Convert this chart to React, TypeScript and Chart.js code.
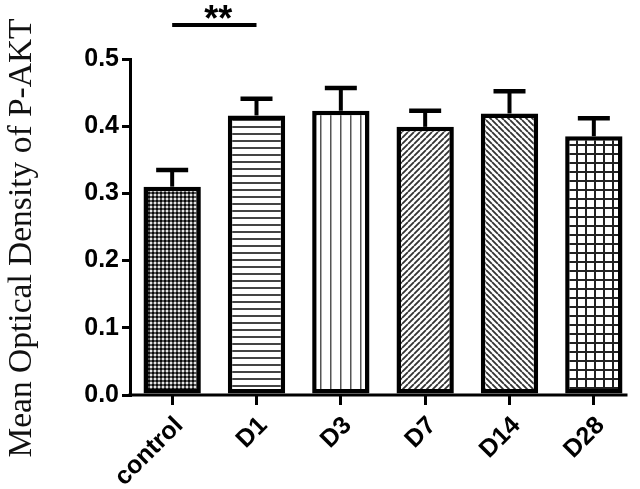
import React, { useEffect, useRef } from 'react';
import { Chart, registerables } from 'chart.js';

Chart.register(...registerables);

const categories = ['control', 'D1', 'D3', 'D7', 'D14', 'D28'];
const means = [0.31, 0.416, 0.423, 0.399, 0.419, 0.385];
const sems = [0.025, 0.025, 0.034, 0.024, 0.033, 0.027];
const patternKinds = ['dots', 'hlines', 'vlines', 'diagUp', 'diagDown', 'grid'];
const yMin = 0;
const yMax = 0.5;
const yStep = 0.1;
const yTitle = 'Mean Optical Density of P-AKT';
const sigLabel = '**';
const sigPair = [0, 1];

function makePattern(kind: string): CanvasPattern | string {
  const c = document.createElement('canvas');
  let s = 6;
  if (kind === 'dots') s = 4;
  if (kind === 'hlines') s = 7;
  if (kind === 'vlines') s = 10;
  if (kind === 'grid') s = 9;
  c.width = s;
  c.height = s;
  const g = c.getContext('2d')!;
  g.fillStyle = '#fff';
  g.fillRect(0, 0, s, s);
  if (kind === 'dots') {
    g.fillStyle = '#555';
    g.fillRect(0, 0, s, s);
    g.fillStyle = '#0a0a0a';
    g.fillRect(0, 0, 2, 2);
    g.fillStyle = '#e6e6e6';
    g.fillRect(2, 2, 2, 2);
  } else if (kind === 'hlines') {
    g.fillStyle = '#444';
    g.fillRect(0, 0, s, 2);
  } else if (kind === 'vlines') {
    g.fillStyle = '#555';
    g.fillRect(0, 0, 1.5, s);
  } else if (kind === 'grid') {
    g.fillStyle = '#222';
    g.fillRect(0, 0, s, 2);
    g.fillRect(0, 0, 2, s);
  } else if (kind === 'diagUp' || kind === 'diagDown') {
    g.strokeStyle = '#333';
    g.lineWidth = 1.8;
    g.beginPath();
    if (kind === 'diagUp') {
      for (let k = -1; k <= 1; k++) {
        g.moveTo(k * s, s);
        g.lineTo(k * s + s, 0);
      }
    } else {
      for (let k = -1; k <= 1; k++) {
        g.moveTo(k * s, 0);
        g.lineTo(k * s + s, s);
      }
    }
    g.stroke();
  }
  const p = g.createPattern(c, 'repeat');
  return p || '#888';
}

const overlayPlugin = {
  id: 'overlay',
  afterDatasetsDraw(chart: any) {
    const ctx = chart.ctx;
    const xs = chart.scales.x;
    const ys = chart.scales.y;
    const area = chart.chartArea;
    const meta = chart.getDatasetMeta(0);
    ctx.save();
    ctx.strokeStyle = '#000';
    ctx.lineCap = 'butt';
    // error bars
    means.forEach((m, i) => {
      const bar = meta.data[i];
      const x = bar.x;
      const yTop = ys.getPixelForValue(m);
      const yCap = ys.getPixelForValue(m + sems[i]);
      ctx.lineWidth = 4;
      ctx.beginPath();
      ctx.moveTo(x, yTop);
      ctx.lineTo(x, yCap);
      ctx.stroke();
      ctx.lineWidth = 4.5;
      ctx.beginPath();
      ctx.moveTo(x - 16, yCap);
      ctx.lineTo(x + 16, yCap);
      ctx.stroke();
    });
    // x axis line
    const last = meta.data[meta.data.length - 1];
    const xEnd = last.x + last.width / 2 + 5;
    ctx.lineWidth = 3;
    ctx.beginPath();
    ctx.moveTo(area.left - 1.5, area.bottom);
    ctx.lineTo(xEnd, area.bottom);
    ctx.stroke();
    // significance
    const x1 = xs.getPixelForValue(sigPair[0]);
    const x2 = xs.getPixelForValue(sigPair[1]);
    ctx.lineWidth = 4;
    ctx.beginPath();
    ctx.moveTo(x1, 25);
    ctx.lineTo(x2, 25);
    ctx.stroke();
    ctx.fillStyle = '#000';
    ctx.font = 'bold 36px "Liberation Sans", Arial, sans-serif';
    ctx.textAlign = 'center';
    ctx.textBaseline = 'alphabetic';
    ctx.fillText(sigLabel, (x1 + x2) / 2 + 4, 31);
    // y title
    ctx.save();
    ctx.translate(22, (area.top + area.bottom) / 2 + 11);
    ctx.rotate(-Math.PI / 2);
    ctx.font = '33.5px "Liberation Serif", "Times New Roman", serif';
    ctx.fillStyle = '#111';
    ctx.textAlign = 'center';
    ctx.textBaseline = 'middle';
    ctx.fillText(yTitle, 0, 0);
    ctx.restore();
    ctx.restore();
  },
};

export default function App() {
  const ref = useRef<HTMLCanvasElement | null>(null);
  useEffect(() => {
    if (!ref.current) return;
    const patterns = patternKinds.map((k) => makePattern(k));
    const chart = new Chart(ref.current, {
      type: 'bar',
      data: {
        labels: categories,
        datasets: [
          {
            data: means,
            backgroundColor: patterns as any,
            borderColor: '#000',
            borderWidth: 4.5,
            borderSkipped: false,
            barPercentage: 0.68,
            categoryPercentage: 1,
          },
        ],
      },
      options: {
        responsive: false,
        animation: false,
        devicePixelRatio: 1,
        layout: { padding: { top: 59, right: 4, left: 0, bottom: 0 } },
        plugins: {
          legend: { display: false },
          tooltip: { enabled: false },
          title: { display: false },
        },
        scales: {
          x: {
            afterFit: (s: any) => {
              s.height = 94;
            },
            grid: {
              offset: false,
              drawOnChartArea: false,
              drawTicks: true,
              tickLength: 10,
              lineWidth: 3,
              color: '#000',
            },
            border: { display: false },
            ticks: {
              autoSkip: false,
              minRotation: 45,
              maxRotation: 45,
              padding: 6,
              labelOffset: 7,
              color: '#000',
              font: { family: '"Liberation Sans", Arial, sans-serif', size: 25, weight: 'bold' },
            },
          },
          y: {
            min: yMin,
            max: yMax,
            afterFit: (s: any) => {
              s.width = 130;
            },
            grid: {
              drawOnChartArea: false,
              drawTicks: true,
              tickLength: 8,
              lineWidth: 3,
              color: '#000',
            },
            border: { display: true, width: 3, color: '#000' },
            ticks: {
              stepSize: yStep,
              padding: 3,
              color: '#000',
              callback: (v: any) => Number(v).toFixed(1),
              font: { family: '"Liberation Sans", Arial, sans-serif', size: 25, weight: 'bold' },
            },
          },
        },
      },
      plugins: [overlayPlugin],
    });
    return () => chart.destroy();
  }, []);
  return (
    <div style={{ position: 'absolute', left: 0, top: 0, width: 640, height: 489, background: '#fff' }}>
      <canvas ref={ref} width={640} height={489} style={{ display: 'block' }} />
    </div>
  );
}
